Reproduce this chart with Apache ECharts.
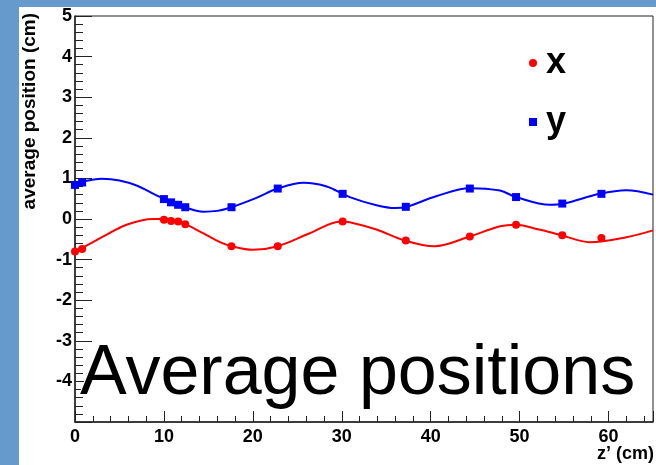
<!DOCTYPE html>
<html>
<head>
<meta charset="utf-8">
<script src="https://cdn.jsdelivr.net/npm/echarts@6/dist/echarts.min.js"></script>
<style>
  html, body { margin: 0; padding: 0; background: #6699cc; }
  body { width: 656px; height: 465px; position: relative; overflow: hidden; }
  #chart { position: absolute; left: 19px; top: 7px; width: 637px; height: 458px; background: #ffffff; }
</style>
</head>
<body>
<div id="chart"></div>
<script>
// measured points (z' in cm)
const zPoints = [0, 0.8, 10, 10.8, 11.6, 12.4, 17.6, 22.8, 30.1, 37.2, 44.4, 49.6, 54.8, 59.2];
const xMean = [-0.80, -0.74, -0.02, -0.05, -0.06, -0.13, -0.67, -0.67, -0.06, -0.53, -0.43, -0.14, -0.40, -0.47];
const yMean = [0.84, 0.90, 0.49, 0.41, 0.35, 0.29, 0.29, 0.75, 0.62, 0.30, 0.75, 0.54, 0.38, 0.62];

// fitted curves
const zFitX = [0, 1.5, 3.2, 5.8, 8.8, 10.5, 12.5, 14.4, 16.3, 17.6, 20.0, 22.8, 26.4, 29.9, 30.9, 33.9, 37.1, 40.4, 44.4, 47.8, 49.6, 52.2, 54.7, 57.9, 62.0, 65];
const xFit = [-0.81, -0.63, -0.43, -0.14, 0.0, 0.0, -0.14, -0.35, -0.57, -0.67, -0.76, -0.67, -0.35, -0.06, -0.08, -0.26, -0.53, -0.67, -0.43, -0.18, -0.14, -0.26, -0.40, -0.57, -0.45, -0.28];
const zFitY = [0, 1.5, 3, 5, 7, 9, 10, 11, 12.5, 14.4, 16, 17.6, 20.4, 22.8, 25.7, 28.3, 30.9, 33.9, 36, 37.3, 40.6, 44.4, 47.8, 49.6, 53.4, 55, 59, 62, 65];
const yFit = [0.86, 0.95, 0.99, 0.95, 0.82, 0.60, 0.50, 0.40, 0.28, 0.18, 0.20, 0.29, 0.52, 0.75, 0.89, 0.80, 0.54, 0.34, 0.27, 0.30, 0.56, 0.76, 0.70, 0.54, 0.35, 0.38, 0.62, 0.71, 0.60];

const font = "'Liberation Sans', Arial, sans-serif";

const pairs = (xs, ys) => xs.map((v, i) => [v, ys[i]]);

const chart = echarts.init(document.getElementById("chart"));

chart.setOption({
  animation: false,
  textStyle: { fontFamily: font },
  grid: {
    left: 56,
    top: 8,
    right: 2,
    bottom: 43,
    show: true,
    borderColor: '#222',
    borderWidth: 1
  },
  legend: [
    {
      data: [{ name: 'x', icon: 'circle' }],
      left: 505,
      top: 33,
      itemWidth: 8,
      itemHeight: 8,
      textStyle: { fontSize: 36, fontWeight: 'bold', color: '#000', fontFamily: font, padding: [0, 0, 0, 4] }
    },
    {
      data: [{ name: 'y', icon: 'rect' }],
      left: 505,
      top: 92,
      itemWidth: 8,
      itemHeight: 8,
      textStyle: { fontSize: 36, fontWeight: 'bold', color: '#000', fontFamily: font, padding: [0, 0, 0, 4] }
    }
  ],
  xAxis: {
    type: 'value',
    min: 0,
    max: 65,
    interval: 10,
    splitLine: { show: false },
    axisLine: { onZero: false, lineStyle: { color: '#222', width: 1.5 } },
    axisTick: { inside: true, length: 11, lineStyle: { color: '#222' } },
    minorTick: { show: true, splitNumber: 5, length: 6, lineStyle: { color: '#222' } },
    axisLabel: {
      margin: 6,
      fontSize: 18,
      fontWeight: 'bold',
      color: '#000',
      fontFamily: font,
      formatter: v => (v % 10 === 0 ? String(v) : '')
    }
  },
  yAxis: {
    type: 'value',
    min: -5,
    max: 5,
    interval: 1,
    splitLine: { show: false },
    axisLine: { lineStyle: { color: '#222', width: 1.5 } },
    axisTick: { inside: true, length: 17, lineStyle: { color: '#222' } },
    minorTick: { show: true, splitNumber: 5, length: 8, lineStyle: { color: '#222' } },
    axisLabel: {
      margin: 3,
      fontSize: 18,
      fontWeight: 'bold',
      color: '#000',
      fontFamily: font,
      showMinLabel: false
    }
  },
  graphic: [
    {
      type: 'text',
      x: 11,
      y: 6,
      rotation: Math.PI / 2,
      style: {
        text: 'average position (cm)',
        font: "bold 19px 'Liberation Sans', Arial, sans-serif",
        fill: '#000',
        align: 'right',
        verticalAlign: 'middle'
      }
    },
    {
      type: 'text',
      right: 2,
      top: 438,
      style: {
        text: 'z\u2019 (cm)',
        font: "bold 18px 'Liberation Sans', Arial, sans-serif",
        fill: '#000'
      }
    },
    {
      type: 'text',
      x: 61,
      y: 368,
      z: 100,
      style: {
        text: 'Average positions',
        font: "70px 'Liberation Sans', Arial, sans-serif",
        fill: '#000',
        stroke: '#fff',
        lineWidth: 2,
        align: 'left',
        verticalAlign: 'middle'
      }
    }
  ],
  series: [
    {
      name: 'x fit',
      type: 'line',
      data: pairs(zFitX, xFit),
      smooth: 0.35,
      showSymbol: false,
      lineStyle: { color: '#ff0000', width: 2 },
      silent: true
    },
    {
      name: 'y fit',
      type: 'line',
      data: pairs(zFitY, yFit),
      smooth: 0.35,
      showSymbol: false,
      lineStyle: { color: '#0000ff', width: 2 },
      silent: true
    },
    {
      name: 'x',
      type: 'scatter',
      symbol: 'circle',
      symbolSize: 8,
      itemStyle: { color: '#ff0000', opacity: 1 },
      data: pairs(zPoints, xMean)
    },
    {
      name: 'y',
      type: 'scatter',
      symbol: 'rect',
      symbolSize: 8,
      itemStyle: { color: '#0000ff', opacity: 1 },
      data: pairs(zPoints, yMean)
    }
  ]
});
</script>
</body>
</html>
